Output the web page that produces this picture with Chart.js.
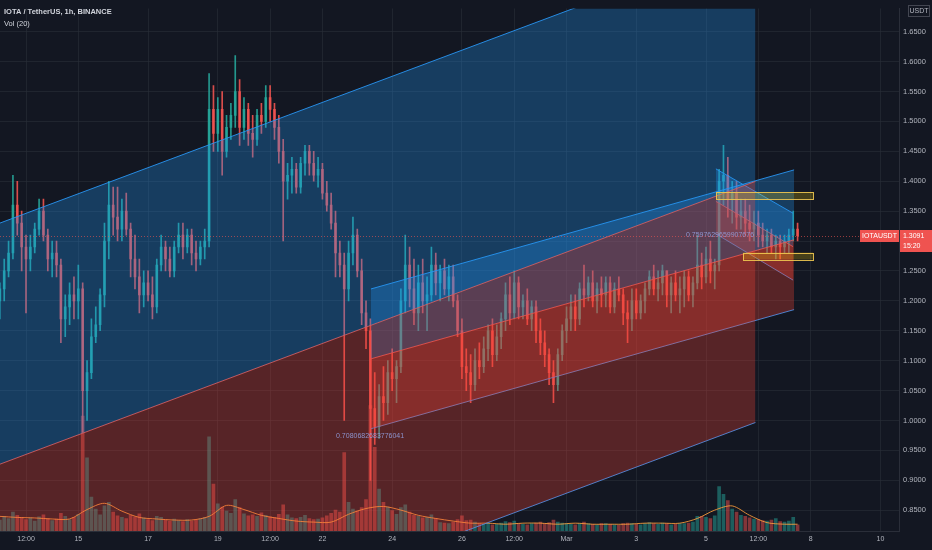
<!DOCTYPE html>
<html>
<head>
<meta charset="utf-8">
<script src="https://cdn.jsdelivr.net/npm/chart.js@4.4.1/dist/chart.umd.min.js"></script>
<style>
  html, body { margin: 0; padding: 0; background: #131722; }
</style>
</head>
<body>
<canvas id="chart" width="932" height="550"></canvas>
<script>
// time is in hours from 15 Feb 00:00, one candle every 3 hours
const firstHour = -54;
const stepHours = 3;

const opens = [
  1.20,1.22,1.25,1.28,1.36,1.33,1.29,1.27,1.29,1.32,
  1.35,1.31,1.27,1.28,1.26,1.17,1.19,1.21,1.20,1.22,
  1.05,1.08,1.14,1.16,1.21,1.30,1.36,1.34,1.32,1.35,
  1.32,1.27,1.24,1.21,1.23,1.21,1.19,1.26,1.29,1.27,
  1.25,1.29,1.31,1.29,1.31,1.28,1.27,1.29,1.30,1.52,
  1.48,1.52,1.45,1.49,1.51,1.55,1.49,1.52,1.48,1.47,
  1.51,1.50,1.54,1.52,1.49,1.45,1.40,1.41,1.42,1.39,
  1.43,1.45,1.43,1.41,1.42,1.38,1.36,1.33,1.28,1.26,
  1.22,1.28,1.31,1.25,1.18,1.15,1.02,0.99,1.04,1.03,
  1.08,1.07,1.09,1.20,1.26,1.22,1.18,1.23,1.20,1.21,
  1.26,1.23,1.25,1.22,1.24,1.20,1.15,1.09,1.08,1.06,
  1.10,1.09,1.12,1.15,1.11,1.14,1.17,1.21,1.18,1.23,
  1.19,1.20,1.17,1.19,1.15,1.13,1.11,1.08,1.06,1.11,
  1.15,1.17,1.19,1.17,1.22,1.21,1.23,1.20,1.22,1.21,
  1.23,1.19,1.22,1.21,1.18,1.17,1.20,1.18,1.20,1.22,
  1.24,1.22,1.23,1.25,1.21,1.23,1.21,1.22,1.24,1.21,
  1.23,1.26,1.24,1.27,1.25,1.26,1.40,1.41,1.37,1.38,
  1.34,1.35,1.33,1.32,1.33,1.31,1.30,1.31,1.29,1.30,
  1.29,1.30,1.31,1.32
];
const highs = [
  1.23,1.27,1.30,1.41,1.40,1.35,1.31,1.31,1.33,1.37,
  1.37,1.32,1.30,1.30,1.27,1.21,1.23,1.24,1.26,1.23,
  1.10,1.17,1.19,1.22,1.33,1.40,1.39,1.39,1.37,1.38,
  1.33,1.31,1.27,1.25,1.25,1.24,1.27,1.31,1.30,1.29,
  1.30,1.33,1.33,1.32,1.32,1.30,1.30,1.32,1.58,1.56,
  1.54,1.55,1.51,1.53,1.61,1.57,1.54,1.53,1.51,1.52,
  1.53,1.56,1.56,1.53,1.51,1.47,1.43,1.44,1.43,1.44,
  1.46,1.46,1.45,1.44,1.43,1.40,1.38,1.35,1.30,1.28,
  1.30,1.34,1.32,1.27,1.20,1.17,1.08,1.06,1.09,1.10,
  1.12,1.10,1.22,1.31,1.29,1.27,1.26,1.27,1.24,1.29,
  1.28,1.26,1.27,1.26,1.26,1.21,1.17,1.12,1.11,1.12,
  1.13,1.14,1.16,1.17,1.16,1.18,1.23,1.24,1.25,1.24,
  1.21,1.22,1.20,1.20,1.17,1.15,1.12,1.10,1.12,1.16,
  1.19,1.21,1.21,1.23,1.26,1.24,1.25,1.23,1.24,1.24,
  1.24,1.23,1.24,1.22,1.20,1.22,1.22,1.21,1.23,1.25,
  1.26,1.25,1.26,1.25,1.24,1.25,1.24,1.25,1.25,1.24,
  1.31,1.28,1.29,1.30,1.27,1.42,1.46,1.44,1.40,1.40,
  1.37,1.37,1.36,1.35,1.35,1.33,1.32,1.32,1.31,1.31,
  1.31,1.32,1.35,1.33
];
const lows = [
  1.17,1.20,1.24,1.27,1.31,1.25,1.18,1.25,1.28,1.31,
  1.30,1.25,1.24,1.24,1.13,1.14,1.16,1.17,1.17,0.98,
  1.00,1.07,1.13,1.15,1.19,1.27,1.31,1.30,1.30,1.31,
  1.24,1.22,1.18,1.19,1.20,1.17,1.18,1.25,1.25,1.24,
  1.24,1.28,1.27,1.28,1.26,1.25,1.26,1.27,1.29,1.45,
  1.45,1.41,1.44,1.47,1.49,1.46,1.47,1.46,1.44,1.46,
  1.48,1.49,1.50,1.47,1.43,1.30,1.37,1.38,1.38,1.38,
  1.41,1.41,1.40,1.39,1.37,1.35,1.32,1.24,1.24,1.00,
  1.20,1.26,1.24,1.16,1.12,0.90,0.96,0.97,1.00,1.01,
  1.05,1.03,1.08,1.18,1.19,1.16,1.15,1.18,1.15,1.20,
  1.21,1.20,1.21,1.20,1.19,1.14,1.07,1.05,1.03,1.05,
  1.07,1.08,1.10,1.09,1.10,1.12,1.15,1.16,1.17,1.17,
  1.17,1.16,1.15,1.13,1.11,1.09,1.06,1.03,1.05,1.10,
  1.13,1.15,1.15,1.16,1.19,1.20,1.19,1.18,1.19,1.19,
  1.18,1.18,1.20,1.16,1.13,1.15,1.17,1.17,1.18,1.21,
  1.21,1.20,1.21,1.19,1.18,1.20,1.18,1.19,1.20,1.19,
  1.22,1.22,1.23,1.23,1.22,1.25,1.36,1.34,1.33,1.32,
  1.32,1.31,1.30,1.30,1.29,1.29,1.28,1.28,1.27,1.27,
  1.28,1.28,1.30,1.30
];
const closes = [
  1.22,1.25,1.28,1.36,1.33,1.29,1.27,1.29,1.32,1.35,
  1.31,1.27,1.28,1.26,1.17,1.19,1.21,1.20,1.22,1.05,
  1.08,1.14,1.16,1.21,1.30,1.36,1.34,1.32,1.35,1.32,
  1.27,1.24,1.21,1.23,1.21,1.19,1.26,1.29,1.27,1.25,
  1.29,1.31,1.29,1.31,1.28,1.27,1.29,1.30,1.52,1.48,
  1.52,1.45,1.49,1.51,1.55,1.49,1.52,1.48,1.47,1.51,
  1.50,1.54,1.52,1.49,1.45,1.40,1.41,1.42,1.39,1.43,
  1.45,1.43,1.41,1.42,1.38,1.36,1.33,1.28,1.26,1.22,
  1.28,1.31,1.25,1.18,1.15,1.02,0.99,1.04,1.03,1.08,
  1.07,1.09,1.20,1.26,1.22,1.18,1.23,1.20,1.21,1.26,
  1.23,1.25,1.22,1.24,1.20,1.15,1.09,1.08,1.06,1.10,
  1.09,1.12,1.15,1.11,1.14,1.17,1.21,1.18,1.23,1.19,
  1.20,1.17,1.19,1.15,1.13,1.11,1.08,1.06,1.11,1.15,
  1.17,1.19,1.17,1.22,1.21,1.23,1.20,1.22,1.21,1.23,
  1.19,1.22,1.21,1.18,1.17,1.20,1.18,1.20,1.22,1.24,
  1.22,1.23,1.25,1.21,1.23,1.21,1.22,1.24,1.21,1.23,
  1.26,1.24,1.27,1.25,1.26,1.40,1.41,1.37,1.38,1.34,
  1.35,1.33,1.32,1.33,1.31,1.30,1.31,1.29,1.30,1.29,
  1.30,1.31,1.32,1.3091
];
// volume, millions
const volumes = [
  2.1,2.8,2.4,3.6,3.0,2.6,2.2,2.5,1.9,2.7,
  3.1,2.4,2.0,2.3,3.4,2.8,2.2,2.6,3.2,22.0,
  14.0,6.5,4.2,3.1,4.8,5.5,3.6,2.9,2.6,2.4,
  3.0,2.7,3.3,2.5,2.2,2.0,2.8,2.6,2.1,1.9,
  2.3,2.0,1.8,2.2,1.9,2.1,2.4,2.6,18.0,9.0,
  5.2,4.6,3.8,3.4,6.0,4.5,3.3,2.9,3.1,2.8,
  3.5,3.0,2.7,2.6,3.2,5.0,3.1,2.5,2.4,2.6,
  3.0,2.4,2.2,2.3,2.5,2.9,3.4,4.0,3.6,15.0,
  5.5,4.2,3.8,4.5,6.0,24.0,16.0,8.0,5.5,4.6,
  3.9,3.2,4.5,5.0,3.6,3.0,2.8,2.5,2.6,3.1,
  2.4,1.6,1.5,1.4,1.7,2.2,2.9,2.0,2.1,1.7,
  1.4,1.3,1.5,1.2,1.3,1.5,1.8,1.6,1.9,1.4,
  1.3,1.2,1.4,1.5,1.7,1.4,1.6,2.1,1.7,1.5,
  1.4,1.3,1.2,1.4,1.7,1.4,1.3,1.2,1.4,1.4,
  1.3,1.2,1.1,1.4,1.5,1.4,1.3,1.2,1.4,1.6,
  1.4,1.3,1.5,1.4,1.2,1.3,1.4,1.4,1.5,1.7,
  2.8,2.8,2.6,2.4,2.9,8.5,7.0,5.8,4.2,3.6,
  3.0,2.8,2.5,2.3,2.2,2.0,1.9,2.1,2.4,1.8,
  1.7,1.9,2.6,1.2
];
// Vol (20) moving average, read every 12 hours
const maHours = [-54,-42,-30,-18,-6,6,18,30,42,54,66,78,90,102,114,126,138,150,162,174,186,198,210,222,234,246,258,270,282,294,306,318,330,342,354,366,378,390,402,414,426,438,450,462,474,486,495];
const maValues = [2.8,2.6,2.5,2.3,2.3,4.1,5.3,3.8,2.6,2.3,2.1,2.1,2.8,4.9,4.1,3.0,2.4,1.9,1.7,1.7,3.2,4.3,4.7,4.0,3.0,2.4,1.9,1.5,1.5,1.3,1.5,1.5,1.3,1.5,1.3,1.3,1.3,1.5,1.5,1.5,2.4,4.0,4.8,3.0,1.6,1.3,1.3];

const tickHours = [-36, 0, 48, 96, 132, 168, 216, 264, 300, 336, 384, 432, 468, 504, 552];
const tickLabels = ['12:00', '15', '17', '19', '12:00', '22', '24', '26', '12:00', 'Mar', '3', '5', '12:00', '8', '10'];
const priceTicks = [0.85, 0.90, 0.95, 1.00, 1.05, 1.10, 1.15, 1.20, 1.25, 1.30, 1.35, 1.40, 1.45, 1.50, 1.55, 1.60, 1.65];

// regression trend drawings: [start, end]
const channelHours = [[-60, 466], [201.4, 492.6], [438.8, 491.9]];
const channelUpper = [[1.3245, 1.8026], [1.2199, 1.4189], [1.4206, 1.3465]];
const channelMid = [[0.9215, 1.3997], [1.1031, 1.3021], [1.3663, 1.2906]];
const channelLower = [[0.5186, 0.9967], [0.9863, 1.1854], [1.3120, 1.2347]];
const pearsonTexts = ['0.7080682683776041', '0.7597629659907676'];
const pearsonHours = [200.8, 441.6];
const pearsonPrices = [0.9732, 1.3104];

const boxHours = [[438.8, 505.6], [457.4, 505.6]];
const boxPrices = [[1.3816, 1.3696], [1.2808, 1.2691]];
const lastPrice = 1.3091;

const UP = 'rgba(38,166,154,0.9)', DOWN = 'rgba(239,83,80,0.9)';
const hours = closes.map((c, i) => firstHour + i * stepHours);
const isUp = closes.map((c, i) => c >= opens[i]);
const candleColors = isUp.map(u => u ? UP : DOWN);
const volColors = isUp.map(u => u ? 'rgba(38,166,154,0.5)' : 'rgba(239,83,80,0.5)');

const channelSets = [];
channelHours.forEach((h, k) => {
  const pts = arr => [{ x: h[0], y: arr[k][0] }, { x: h[1], y: arr[k][1] }];
  const base = { type: 'line', order: 1, pointRadius: 0, borderWidth: 1, tension: 0 };
  channelSets.push(Object.assign({}, base, { data: pts(channelUpper), borderColor: 'rgba(41,150,243,0.9)', backgroundColor: 'rgba(33,150,243,0.3)', fill: '+1' }));
  channelSets.push(Object.assign({}, base, { data: pts(channelMid), borderColor: 'rgba(244,84,70,0.9)', backgroundColor: 'rgba(244,67,54,0.3)', fill: '+1' }));
  channelSets.push(Object.assign({}, base, { data: pts(channelLower), borderColor: 'rgba(66,150,243,0.9)', fill: false }));
});

Chart.defaults.font.family = '"Liberation Sans", Arial, sans-serif';

const overlay = {
  id: 'overlay',
  beforeDraw(chart) {
    const c = chart.ctx;
    c.save();
    c.fillStyle = '#131722';
    c.fillRect(0, 0, chart.width, chart.height);
    c.restore();
  },
  afterDatasetsDraw(chart) {
    const c = chart.ctx, x = chart.scales.x, y = chart.scales.y, a = chart.chartArea;
    c.save();
    c.beginPath();
    c.rect(a.left, a.top, a.right - a.left, a.bottom - a.top);
    c.clip();
    boxHours.forEach((h, k) => {
      const x0 = x.getPixelForValue(h[0]), x1 = x.getPixelForValue(h[1]);
      const y0 = y.getPixelForValue(boxPrices[k][0]), y1 = y.getPixelForValue(boxPrices[k][1]);
      c.fillStyle = 'rgba(255,214,0,0.22)';
      c.fillRect(x0, y0, x1 - x0, y1 - y0);
      c.strokeStyle = 'rgba(240,200,80,0.9)';
      c.lineWidth = 1;
      c.strokeRect(Math.round(x0) + 0.5, Math.round(y0) + 0.5, Math.round(x1 - x0), Math.round(y1 - y0));
    });
    c.font = '7px "Liberation Sans"';
    c.fillStyle = 'rgba(146,158,222,0.9)';
    c.textAlign = 'center';
    c.textBaseline = 'middle';
    pearsonTexts.forEach((t, k) => c.fillText(t, x.getPixelForValue(pearsonHours[k]), y.getPixelForValue(pearsonPrices[k])));
    const py = Math.round(y.getPixelForValue(lastPrice)) + 0.5;
    c.strokeStyle = 'rgba(239,83,80,0.6)';
    c.setLineDash([1, 2]);
    c.beginPath();
    c.moveTo(a.left, py);
    c.lineTo(a.right, py);
    c.stroke();
    c.restore();
  },
  afterDraw(chart) {
    const c = chart.ctx, y = chart.scales.y, a = chart.chartArea;
    c.save();
    c.fillStyle = '#d1d4dc';
    c.textAlign = 'left';
    c.textBaseline = 'alphabetic';
    c.font = 'bold 7.5px "Liberation Sans"';
    c.fillText('IOTA / TetherUS, 1h, BINANCE', 4, 14);
    c.font = '7.5px "Liberation Sans"';
    c.fillText('Vol (20)', 4, 26);
    // currency box on the price axis
    c.strokeStyle = '#434651';
    c.lineWidth = 1;
    c.strokeRect(908.5, 5.5, 21, 11);
    c.fillStyle = '#b2b5be';
    c.font = '7px "Liberation Sans"';
    c.textAlign = 'center';
    c.textBaseline = 'middle';
    c.fillText('USDT', 919, 11.5);
    // last price labels
    const py = Math.round(y.getPixelForValue(lastPrice));
    c.fillStyle = '#ef5350';
    c.fillRect(860, py - 6, a.right - 860, 12);
    c.fillRect(a.right + 1, py - 6, 932 - a.right - 1, 22);
    c.fillStyle = '#ffffff';
    c.font = '7px "Liberation Sans"';
    c.fillText('IOTAUSDT', (860 + a.right) / 2, py);
    c.textAlign = 'left';
    c.fillText('1.3091', a.right + 4, py);
    c.fillText('15:20', a.right + 4, py + 10);
    c.restore();
  }
};

new Chart(document.getElementById('chart'), {
  type: 'bar',
  data: {
    datasets: channelSets.concat([
      {
        type: 'bar', order: 4, grouped: false, barThickness: 2, minBarLength: 1,
        data: hours.map((h, i) => ({ x: h, y: [opens[i], closes[i]] })),
        backgroundColor: candleColors
      },
      {
        type: 'bar', order: 5, grouped: false, barThickness: 1,
        data: hours.map((h, i) => ({ x: h, y: [lows[i], highs[i]] })),
        backgroundColor: candleColors
      },
      {
        type: 'line', order: 7, yAxisID: 'vol', pointRadius: 0, borderWidth: 1, tension: 0.3,
        borderColor: 'rgba(255,160,60,0.85)', fill: false,
        data: maHours.map((h, i) => ({ x: h, y: maValues[i] }))
      },
      {
        type: 'bar', order: 8, yAxisID: 'vol', grouped: false, barThickness: 3,
        data: hours.map((h, i) => ({ x: h, y: volumes[i] })),
        backgroundColor: volColors
      }
    ])
  },
  options: {
    responsive: false,
    animation: false,
    events: [],
    devicePixelRatio: 1,
    layout: { padding: 0 },
    plugins: { legend: { display: false }, tooltip: { enabled: false } },
    scales: {
      x: {
        type: 'linear', min: -53.9, max: 564.8, offset: false,
        afterBuildTicks: s => { s.ticks = tickHours.map(v => ({ value: v })); },
        afterFit: s => { s.height = 19; },
        ticks: {
          autoSkip: false, maxRotation: 0, color: '#b2b5be', padding: 4,
          font: { size: 7 },
          callback: v => tickLabels[tickHours.indexOf(v)]
        },
        grid: { color: 'rgba(42,46,57,0.6)', drawTicks: false, offset: false },
        border: { color: '#2a2e39' }
      },
      y: {
        position: 'right', min: 0.8153, max: 1.6887,
        afterBuildTicks: s => { s.ticks = priceTicks.map(v => ({ value: v })); },
        afterFit: s => { s.width = 33; },
        ticks: {
          autoSkip: false, color: '#b2b5be', padding: 4,
          font: { size: 7.5 },
          callback: v => Number(v).toFixed(4)
        },
        grid: { color: 'rgba(42,46,57,0.6)', drawTicks: false },
        border: { color: '#2a2e39' }
      },
      vol: { display: false, min: 0, max: 100 }
    }
  },
  plugins: [overlay]
});
</script>
</body>
</html>
